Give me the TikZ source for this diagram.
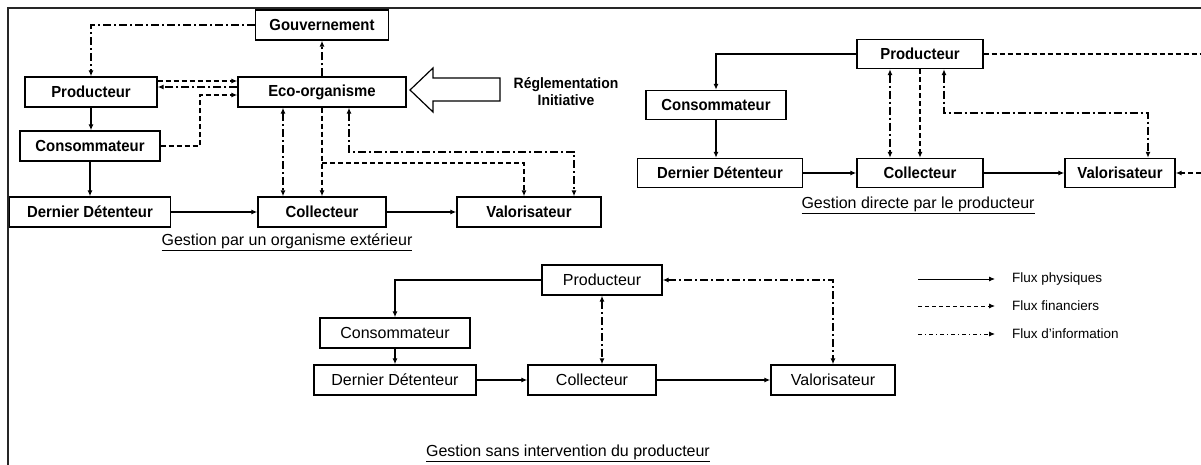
\documentclass[tikz,border=0pt]{standalone}
\usepackage{fontspec}
\setmainfont{Liberation Sans}
\newfontfamily\nbold[FakeStretch=0.93]{Liberation Sans}
\usetikzlibrary{arrows.meta}
\begin{document}
\begin{tikzpicture}[x=1pt,y=-1pt,
  >={Latex[length=6pt,width=5pt]},
  boxa/.style={draw, line width=1.4pt, minimum height=30pt, inner sep=0pt, font=\nbold\bfseries\fontsize{16}{18}\selectfont},
  boxb/.style={draw, line width=1.4pt, minimum height=29pt, inner sep=0pt, font=\nbold\bfseries\fontsize{16}{18}\selectfont},
  boxc/.style={draw, line width=1.4pt, minimum height=30pt, inner sep=0pt, font=\fontsize{16}{18}\selectfont},
  capt/.style={font=\fontsize{16}{18}\selectfont, inner sep=0pt},
  legt/.style={font=\fontsize{13.5}{15}\selectfont, anchor=west, inner sep=0pt},
  phys/.style={line width=1.2pt},
  fin/.style={line width=1.2pt, dash pattern=on 5pt off 3pt},
  inf/.style={line width=1.2pt, dash pattern=on 8pt off 3pt on 2pt off 3pt},
  legl/.style={line width=0.9pt}
]
\useasboundingbox (0,0) rectangle (1201,465);
\draw[line width=1.5pt, black!85] (8,465) -- (8,8) -- (1201,8);

% ---------- Diagram 1 ----------
\node[boxa, minimum width=133pt] (gouv) at (322,25) {Gouvernement};
\node[boxa, minimum width=132pt] (prod1) at (91,92) {Producteur};
\node[boxa, minimum width=168pt] (eco) at (322,92) {Eco-organisme};
\node[boxa, minimum width=140pt] (cons1) at (90,146) {Consommateur};
\node[boxa, minimum width=161pt] (dd1) at (90,212) {Dernier Détenteur};
\node[boxa, minimum width=128pt] (coll1) at (322,212) {Collecteur};
\node[boxa, minimum width=144pt] (valo1) at (529,212) {Valorisateur};

\draw[inf,->] (gouv.west) -| (prod1.north);
\draw[inf,->] (eco.north) -- (gouv.south);
\draw[fin,->] (prod1.east |- 0,81) -- (eco.west |- 0,81);
\draw[inf,->] (eco.west |- 0,87) -- (prod1.east |- 0,87);
\draw[fin,->] (cons1.east) -- (cons1.east -| 200,0) |- (eco.west |- 0,95);
\draw[phys,->] (prod1.south) -- (prod1.south |- cons1.north);
\draw[phys,->] (cons1.south) -- (cons1.south |- dd1.north);
\draw[phys,->] (dd1) -- (coll1);
\draw[phys,->] (coll1) -- (valo1);
\draw[inf,<->] (eco.south -| 283,0) -- (coll1.north -| 283,0);
\draw[fin,->] (eco.south) -- (coll1.north);
\draw[fin,->] (eco.south |- 0,163) -| (valo1.north -| 524,0);
\draw[inf,<->] (eco.south -| 349,0) |- (574,152) -- (valo1.north -| 574,0);

\draw[line width=1.2pt, fill=white] (410,90) -- (433,68) -- (433,78) -- (500,78) -- (500,101) -- (433,101) -- (433,112) -- cycle;
\node[font=\nbold\bfseries\fontsize{15}{17}\selectfont, align=center] (regl) at (566,92) {Réglementation\\Initiative};
\node[capt] (cap1) at (287,242) {\underline{Gestion par un organisme extérieur}};

% ---------- Diagram 2 ----------
\node[boxb, minimum width=126pt] (prod2) at (920,54) {Producteur};
\node[boxb, minimum width=140pt] (cons2) at (716,105) {Consommateur};
\node[boxb, minimum width=165pt] (dd2) at (720,173) {Dernier Détenteur};
\node[boxb, minimum width=126pt] (coll2) at (920,173) {Collecteur};
\node[boxb, minimum width=110pt] (valo2) at (1120,173) {Valorisateur};
\coordinate (e1) at (1201,54);
\coordinate (e2) at (1201,173);

\draw[phys,->] (prod2.west) -| (cons2.north);
\draw[phys,->] (cons2.south) -- (cons2.south |- dd2.north);
\draw[phys,->] (dd2) -- (coll2);
\draw[phys,->] (coll2) -- (valo2);
\draw[inf,<->] (prod2.south -| 890,0) -- (coll2.north -| 890,0);
\draw[fin,->] (prod2.south) -- (coll2.north);
\draw[inf,<->] (prod2.south -| 944,0) |- (1148,113) -- (valo2.north -| 1148,0);
\draw[fin] (prod2.east) -- (e1);
\draw[fin,->] (e2) -- (valo2.east);
\node[capt] (cap2) at (918,205) {\underline{Gestion directe par le producteur}};

% ---------- Diagram 3 ----------
\node[boxc, minimum width=120pt] (prod3) at (602,280) {Producteur};
\node[boxc, minimum width=150pt] (cons3) at (395,333) {Consommateur};
\node[boxc, minimum width=162pt] (dd3) at (395,380) {Dernier Détenteur};
\node[boxc, minimum width=128pt] (coll3) at (592,380) {Collecteur};
\node[boxc, minimum width=124pt] (valo3) at (833,380) {Valorisateur};

\draw[phys,->] (prod3.west) -| (cons3.north);
\draw[phys,->] (cons3) -- (dd3);
\draw[phys,->] (dd3) -- (coll3);
\draw[phys,->] (coll3) -- (valo3);
\draw[inf,<->] (prod3.south) -- (prod3.south |- coll3.north);
\draw[inf,<->] (prod3.east) -| (valo3.north);
\node[capt] (cap3) at (568,453) {\underline{Gestion sans intervention du producteur}};

% ---------- Legend ----------
\coordinate (la1) at (918,279); \coordinate (lb1) at (995,279);
\coordinate (la2) at (918,306); \coordinate (lb2) at (995,306);
\coordinate (la3) at (918,334); \coordinate (lb3) at (995,334);
\draw[legl,->] (la1) -- (lb1);
\draw[legl,->,dash pattern=on 4pt off 3pt] (la2) -- (lb2);
\draw[legl,->,dash pattern=on 4pt off 3pt on 1pt off 3pt] (la3) -- (lb3);
\node[legt] (t1) at (1012,279) {Flux physiques};
\node[legt] (t2) at (1012,306) {Flux financiers};
\node[legt] (t3) at (1012,334) {Flux d’information};
\end{tikzpicture}
\end{document}
